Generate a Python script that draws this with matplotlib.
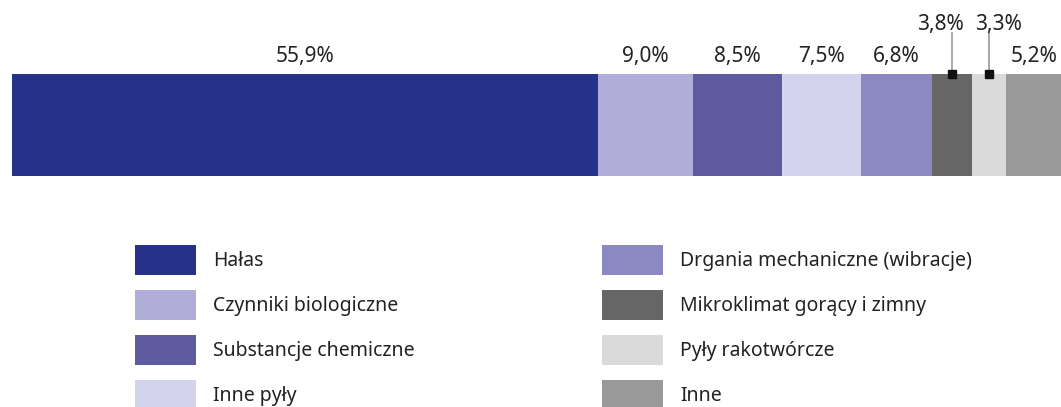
import matplotlib
matplotlib.use("Agg")
import matplotlib.pyplot as plt

categories = ["Hałas", "Czynniki biologiczne", "Substancje chemiczne", "Inne pyły",
              "Drgania mechaniczne (wibracje)", "Mikroklimat gorący i zimny",
              "Pyły rakotwórcze", "Inne"]
values = [55.9, 9.0, 8.5, 7.5, 6.8, 3.8, 3.3, 5.2]
labels = ["55,9%", "9,0%", "8,5%", "7,5%", "6,8%", "3,8%", "3,3%", "5,2%"]
colors = ["#263289", "#b0aed8", "#5e5aa0", "#d3d3ee", "#8c88c2", "#666666", "#d9dad9", "#999999"]
# horizontal shift (in percent units) of raised labels relative to their leader line
raised_shift = [None, None, None, None, None, -1.05, 0.9, None]

plt.rcParams['font.family'] = ['Noto Sans', 'DejaVu Sans']
W, H = 1061, 407
fig = plt.figure(figsize=(W / 100, H / 100), dpi=100)
ax = fig.add_axes([12 / W, 0, 1049 / W, 1])
ax.set_xlim(0, 100)
ax.set_ylim(H, 0)
ax.axis("off")

LFS = 15
left = 0
handles = []
for cat, v, lab, c, sh in zip(categories, values, labels, colors, raised_shift):
    b = ax.barh(125, v, left=left, height=102, color=c, label=cat)
    handles.append(b)
    cx = left + v / 2
    if sh is not None:
        ax.plot([cx, cx], [33, 74], color="#999999", lw=1.2)
        ax.plot(cx, 74, marker="s", ms=5.5, color="#111111", clip_on=False)
        ax.text(cx + sh, 30, lab, ha="center", va="baseline", fontsize=LFS, color="#222222")
    else:
        ax.text(cx, 62, lab, ha="center", va="baseline", fontsize=LFS, color="#222222")
    left += v

fs = 14
fpx = fs * 100 / 72
kw = dict(frameon=False, fontsize=fs, handlelength=61 / fpx, handleheight=2.0,
          handletextpad=17 / fpx, labelspacing=0.77, borderpad=0, borderaxespad=0,
          loc="upper left")
leg1 = fig.legend(handles[:4], categories[:4], bbox_to_anchor=(135 / W, 1 - 245 / H), **kw)
leg2 = fig.legend(handles[4:], categories[4:], bbox_to_anchor=(602 / W, 1 - 245 / H), **kw)
for leg in (leg1, leg2):
    for t in leg.get_texts():
        t.set_color("#222222")

fig.savefig("out.png", dpi=100)
